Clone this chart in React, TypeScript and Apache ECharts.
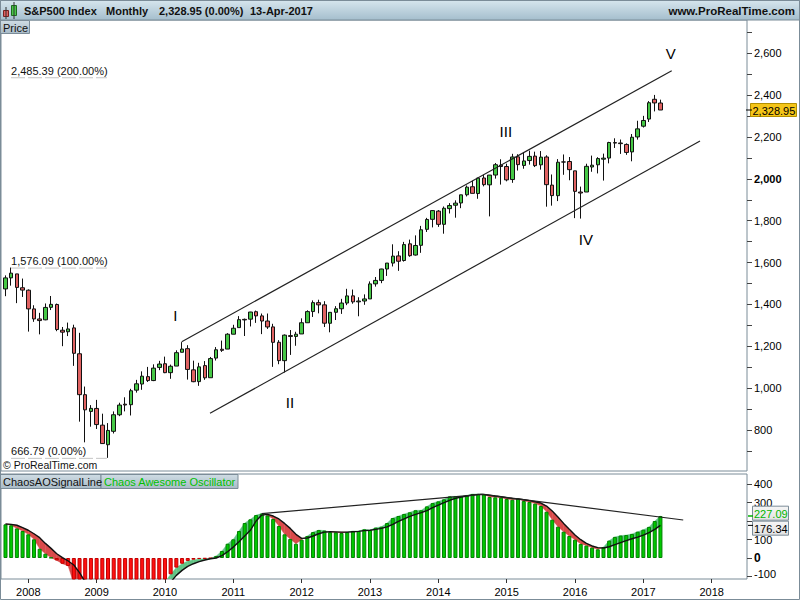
import React, { useEffect, useRef } from "react";
import * as echarts from "echarts";

const FONT = '"Liberation Sans", Arial, Helvetica, sans-serif';

// Monthly S&P500 bars, index 0 = Sep 2007 ... index 115 = Apr 2017
const opens = [
  1473.99, 1526.75, 1545.79, 1479.63,
  1467.97, 1378.6, 1330.45, 1326.41, 1385.97, 1399.62, 1276.69, 1269.42, 1287.83, 1164.17, 968.67, 888.61,
  902.99, 823.09, 729.57, 793.59, 872.74, 923.26, 920.82, 990.22, 1019.52, 1054.91, 1036.18, 1098.89,
  1116.56, 1073.89, 1105.36, 1171.23, 1188.58, 1087.3, 1031.1, 1107.53, 1049.72, 1143.49, 1185.71, 1186.6,
  1257.62, 1289.14, 1328.64, 1329.48, 1365.21, 1345.2, 1320.64, 1292.59, 1219.12, 1131.21, 1251.0, 1246.91,
  1258.86, 1312.45, 1365.9, 1408.47, 1397.86, 1309.87, 1362.33, 1379.32, 1406.54, 1440.9, 1412.2, 1416.18,
  1426.19, 1498.11, 1514.68, 1569.18, 1597.55, 1631.71, 1609.78, 1689.42, 1635.95, 1682.41, 1758.7, 1806.55,
  1845.86, 1782.68, 1857.68, 1873.96, 1884.66, 1923.87, 1962.29, 1929.8, 2004.07, 1971.44, 2018.21, 2065.78,
  2058.9, 1996.67, 2105.23, 2064.11, 2087.38, 2108.64, 2067.0, 2104.49, 1970.09, 1919.65, 2080.76, 2082.93,
  2038.2, 1936.94, 1937.09, 2056.62, 2067.17, 2093.94, 2099.34, 2173.15, 2171.33, 2164.33, 2128.68, 2200.17,
  2251.57, 2285.59, 2380.13, 2362.34,
];
const closes = [
  1526.75, 1549.38, 1481.14, 1468.36,
  1378.55, 1330.63, 1322.7, 1385.59, 1400.38, 1280.0, 1267.38, 1282.83, 1166.36, 968.75, 896.24, 903.25,
  825.88, 735.09, 797.87, 872.81, 919.14, 919.32, 987.48, 1020.62, 1057.08, 1036.19, 1095.63, 1115.1,
  1073.87, 1104.49, 1169.43, 1186.69, 1089.41, 1030.71, 1101.6, 1049.33, 1141.2, 1183.26, 1180.55, 1257.64,
  1286.12, 1327.22, 1325.83, 1363.61, 1345.2, 1320.64, 1292.28, 1218.89, 1131.42, 1253.3, 1246.96, 1257.6,
  1312.41, 1365.68, 1408.47, 1397.91, 1310.33, 1362.16, 1379.32, 1406.58, 1440.67, 1412.16, 1416.18, 1426.19,
  1498.11, 1514.68, 1569.19, 1597.57, 1630.74, 1606.28, 1685.73, 1632.97, 1681.55, 1756.54, 1805.81, 1848.36,
  1782.59, 1859.45, 1872.34, 1883.95, 1923.57, 1960.23, 1930.67, 2003.37, 1972.29, 2018.05, 2067.56, 2058.9,
  1994.99, 2104.5, 2067.89, 2085.51, 2107.39, 2063.11, 2103.84, 1972.18, 1920.03, 2079.36, 2080.41, 2043.94,
  1940.24, 1932.23, 2059.74, 2065.3, 2096.95, 2098.86, 2173.6, 2170.95, 2168.27, 2126.15, 2198.81, 2238.83,
  2278.87, 2363.64, 2362.72, 2328.95,
];
const lows = [
  1439.29, 1489.56, 1406.1, 1435.65,
  1270.05, 1316.75, 1256.98, 1324.35, 1373.07, 1272.0, 1200.44, 1248.64, 1106.42, 839.8, 741.02, 815.69,
  804.85, 734.52, 666.79, 783.32, 866.1, 888.86, 869.32, 978.51, 991.97, 1029.38, 1033.38, 1085.89,
  1071.59, 1044.5, 1105.36, 1170.69, 1040.78, 1028.33, 1010.91, 1039.7, 1049.72, 1131.87, 1173.0, 1186.6,
  1257.62, 1289.14, 1249.05, 1294.7, 1311.8, 1258.07, 1282.86, 1101.54, 1114.22, 1074.77, 1158.66, 1202.37,
  1258.86, 1312.45, 1340.03, 1357.38, 1291.98, 1266.74, 1325.41, 1354.65, 1396.56, 1403.28, 1343.35, 1398.11,
  1426.19, 1485.01, 1501.48, 1536.03, 1581.28, 1560.33, 1604.57, 1627.47, 1633.41, 1646.47, 1746.2, 1767.99,
  1770.45, 1737.92, 1834.44, 1814.36, 1859.79, 1915.98, 1930.67, 1904.78, 1964.04, 1820.66, 2001.01, 1972.56,
  1988.12, 1980.9, 2039.69, 2048.38, 2067.93, 2056.32, 2044.02, 1867.01, 1871.91, 1893.7, 2019.39, 1993.26,
  1812.29, 1810.1, 1937.09, 2033.8, 2025.91, 1991.68, 2074.02, 2147.58, 2119.12, 2114.72, 2083.79, 2187.44,
  2245.13, 2271.65, 2322.25, 2328.95,
];
const highs = [
  1538.74, 1576.09, 1545.79, 1523.57,
  1471.77, 1396.02, 1359.68, 1404.57, 1440.24, 1404.05, 1292.17, 1313.15, 1303.04, 1264.27, 1007.51, 918.85,
  943.85, 877.86, 832.98, 888.7, 930.17, 956.23, 996.68, 1039.47, 1080.15, 1101.36, 1113.69, 1130.38,
  1150.45, 1112.42, 1180.69, 1219.8, 1205.13, 1131.23, 1120.95, 1129.24, 1148.9, 1196.14, 1227.08, 1262.6,
  1302.67, 1344.07, 1332.28, 1364.56, 1370.58, 1356.48, 1356.48, 1307.38, 1229.29, 1256.55, 1277.55, 1269.37,
  1333.47, 1371.94, 1419.15, 1422.38, 1415.32, 1363.46, 1391.74, 1426.68, 1474.51, 1470.96, 1434.27, 1448.0,
  1509.94, 1530.94, 1570.28, 1597.57, 1687.18, 1654.19, 1698.78, 1709.67, 1729.86, 1775.22, 1813.55, 1849.44,
  1850.84, 1867.92, 1883.97, 1897.28, 1924.03, 1968.17, 1991.39, 2005.04, 2019.26, 2018.19, 2075.76, 2093.55,
  2072.36, 2119.59, 2117.52, 2125.92, 2134.72, 2129.87, 2132.82, 2112.66, 2020.86, 2094.32, 2116.48, 2104.27,
  2038.2, 1962.96, 2072.21, 2111.05, 2103.48, 2120.55, 2177.09, 2193.81, 2187.87, 2169.6, 2214.1, 2277.53,
  2300.99, 2371.54, 2400.98, 2378.36,
];

// Chaos Awesome Oscillator (bars) and its signal line
const aoValues = [
  182, 177, 160, 146,
  128, 101, 50, 23, 2, -13, -31, -43, -140, -220, -300, -340,
  -360, -380, -390, -380, -360, -330, -300, -270, -240, -210, -185, -160,
  -130, -88, -52, -31, -16, -9, -5, -4, -2, 11, 38, 77,
  101, 146, 189, 209, 232, 240, 230, 211, 173, 128, 103, 77,
  99, 119, 140, 151, 148, 140, 139, 135, 140, 146, 146, 155,
  151, 164, 169, 189, 216, 227, 238, 247, 258, 258, 279, 297,
  306, 317, 333, 333, 333, 339, 346, 346, 344, 330, 328, 326,
  319, 315, 321, 308, 303, 294, 281, 250, 207, 169, 142, 119,
  99, 76, 67, 56, 47, 59, 94, 114, 121, 124, 130, 142,
  153, 168, 200, 227.09,
];
const signalValues = [
  184, 182, 177, 164,
  150, 131, 110, 79, 52, 23, 2, -16, -38, -79, -130, -180,
  -230, -270, -300, -320, -330, -330, -320, -300, -280, -250, -220, -190,
  -160, -130, -94, -67, -45, -31, -20, -11, -4, 0, 13, 34,
  59, 88, 119, 150, 200, 232, 236, 227, 211, 187, 160, 128,
  106, 108, 119, 131, 140, 142, 141, 140, 140, 142, 144, 148,
  150, 155, 160, 168, 182, 198, 212, 225, 236, 245, 256, 272,
  286, 299, 312, 322, 330, 335, 340, 344, 344, 340, 335, 331,
  326, 322, 319, 315, 310, 304, 297, 281, 254, 222, 187, 155,
  124, 99, 79, 65, 56, 54, 61, 72, 83, 94, 104, 113,
  124, 137, 155, 176.34,
];

const yearLabels = [2008, 2009, 2010, 2011, 2012, 2013, 2014, 2015, 2016, 2017, 2018];
const yearIdx = yearLabels.map((y) => (y - 2008) * 12 + 4);
const priceLabels = [800, 1000, 1200, 1400, 1600, 1800, 2000, 2200, 2400, 2600];
const priceTicks = [700, 800, 900, 1000, 1100, 1200, 1300, 1400, 1500, 1600, 1700, 1800, 1900, 2000, 2100, 2200, 2300, 2400, 2500, 2600, 2700];
const aoTicks = [-100, 0, 100, 200, 300, 400];
const aoLabels = [-100, 0, 100, 300, 400];

// Drawn objects in data coordinates [month index, value]
const upperChannel = [[30.94, 1221.9], [116.98, 2516.8]];
const lowerChannel = [[35.91, 879.8], [121.95, 2180.9]];
const aoTrend = [[44.99, 239.5], [83.67, 344.3], [119.0, 205.4]];
const fibLevels = [2485.39, 1576.09, 666.79];
const fibPercents = ["200.00", "100.00", "0.00"];
const fibSpan = [0.97, 17.8];
const waveNames = ["I", "II", "III", "IV", "V"];
const waveX = [29.82, 49.96, 87.85, 101.9, 116.82];
const waveY = [1344.7, 931.4, 2223.9, 1708, 2598];
const lastPrice = 2328.95;

const X_MIN = -0.79;
const X_MAX = 130.2;
const P_MIN = 604;
const P_MAX = 2759;
const A_MIN = -113.5;
const A_MAX = 454.05;

const BORDER = "#7b8c98";
const UP = "#46c846";
const DOWN = "#e06262";
const RED_FILL = "#d94a4a";
const GREEN_FILL = "#62c486";

const fmt = (v: number) => v.toLocaleString("en-US");
const fmt2 = (v: number) =>
  v.toLocaleString("en-US", { minimumFractionDigits: 2, maximumFractionDigits: 2 });

function buildOption(): any {
  const candleData = opens.map((o, i) => [i, o, closes[i], lows[i], highs[i]]);
  const aoBarData = aoValues.map((v, i) => ({
    value: [i, v],
    itemStyle:
      v >= 0
        ? { color: "#00c800", borderColor: "#008000", borderWidth: 1 }
        : { color: "#ff1010", borderColor: "#c00000", borderWidth: 1 },
  }));
  const signalData = signalValues.map((v, i) => [i, v]);
  const fillData = aoValues.slice(0, -1).map((v, i) => [i, v, signalValues[i], aoValues[i + 1], signalValues[i + 1]]);

  const labelFont = { fontSize: 11, color: "#000", fontFamily: FONT };

  return {
    animation: false,
    backgroundColor: "#ffffff",
    textStyle: { fontFamily: FONT },
    grid: [
      { left: 1, top: 20, width: 746, height: 451, show: true, borderColor: BORDER, borderWidth: 1, backgroundColor: "#fff" },
      { left: 1, top: 474, width: 746, height: 105, show: true, borderColor: BORDER, borderWidth: 1, backgroundColor: "#fff" },
    ],
    xAxis: [
      { type: "value", gridIndex: 0, min: X_MIN, max: X_MAX, show: false, axisLine: { onZero: false }, splitLine: { show: false } },
      {
        type: "value",
        gridIndex: 1,
        position: "bottom",
        min: X_MIN,
        max: X_MAX,
        axisLine: { show: false, onZero: false },
        splitLine: { show: false },
        axisTick: { show: true, customValues: yearIdx, length: 4, inside: false, lineStyle: { color: "#333" } },
        axisLabel: {
          customValues: yearIdx,
          margin: 7,
          ...labelFont,
          formatter: (v: number) => {
            const k = yearIdx.indexOf(Math.round(v));
            return k >= 0 ? String(yearLabels[k]) : "";
          },
        },
      },
    ],
    yAxis: [
      {
        type: "value",
        gridIndex: 0,
        position: "right",
        min: P_MIN,
        max: P_MAX,
        splitLine: { show: false },
        axisLine: { show: false, onZero: false },
        axisTick: { show: true, customValues: priceTicks, length: 5, inside: false, lineStyle: { color: "#444" } },
        axisLabel: {
          customValues: priceLabels,
          margin: 7,
          ...labelFont,
          formatter: (v: number) => (v === 2000 ? "{b|" + fmt(v) + "}" : fmt(v)),
          rich: { b: { fontWeight: "bold", fontSize: 11, color: "#000", fontFamily: FONT } },
        },
      },
      {
        type: "value",
        gridIndex: 1,
        position: "right",
        min: A_MIN,
        max: A_MAX,
        splitLine: { show: false },
        axisLine: { show: false, onZero: false },
        axisTick: { show: true, customValues: aoTicks, length: 5, inside: false, lineStyle: { color: "#444" } },
        axisLabel: {
          customValues: aoLabels,
          margin: 7,
          ...labelFont,
          formatter: (v: number) => (v === 0 ? "{b|0}" : v === -100 ? "{m|-100}" : String(v)),
          rich: {
            b: { fontWeight: "bold", fontSize: 12, color: "#000", fontFamily: FONT },
            m: { fontSize: 11, color: "#000", fontFamily: FONT, padding: [0, 0, 6, 0] },
          },
        },
      },
    ],
    series: [
      {
        type: "candlestick",
        xAxisIndex: 0,
        yAxisIndex: 0,
        data: candleData,
        barWidth: 4,
        z: 3,
        silent: true,
        itemStyle: {
          color: UP,
          color0: DOWN,
          borderColor: "#111",
          borderColor0: "#111",
          borderWidth: 1,
        },
      },
      {
        type: "line",
        xAxisIndex: 0,
        yAxisIndex: 0,
        data: upperChannel,
        symbol: "none",
        silent: true,
        z: 4,
        lineStyle: { color: "#222", width: 1.2 },
      },
      {
        type: "line",
        xAxisIndex: 0,
        yAxisIndex: 0,
        data: lowerChannel,
        symbol: "none",
        silent: true,
        z: 4,
        lineStyle: { color: "#222", width: 1.2 },
      },
      {
        type: "custom",
        xAxisIndex: 1,
        yAxisIndex: 1,
        data: fillData,
        clip: true,
        silent: true,
        z: 1,
        encode: { x: 0, y: [1, 2, 3, 4] },
        renderItem: (params: any, api: any) => {
          const i = api.value(0);
          const a0 = api.value(1);
          const s0 = api.value(2);
          const a1 = api.value(3);
          const s1 = api.value(4);
          const d0 = a0 - s0;
          const d1 = a1 - s1;
          const mk = (pts: number[][], up: boolean) => {
            const c = up ? GREEN_FILL : RED_FILL;
            return {
              type: "polygon",
              shape: { points: pts.map((p) => api.coord(p)) },
              style: { fill: c, stroke: c, lineWidth: 0.4 },
            };
          };
          const children: any[] = [];
          if (d0 * d1 >= 0) {
            children.push(mk([[i, a0], [i + 1, a1], [i + 1, s1], [i, s0]], d0 + d1 > 0));
          } else {
            const t = d0 / (d0 - d1);
            const xm = i + t;
            const ym = a0 + (a1 - a0) * t;
            children.push(mk([[i, a0], [xm, ym], [i, s0]], d0 > 0));
            children.push(mk([[xm, ym], [i + 1, a1], [i + 1, s1]], d1 > 0));
          }
          return { type: "group", children };
        },
      },
      {
        type: "bar",
        xAxisIndex: 1,
        yAxisIndex: 1,
        data: aoBarData,
        barWidth: 4,
        silent: true,
        z: 2,
      },
      {
        type: "line",
        xAxisIndex: 1,
        yAxisIndex: 1,
        data: signalData,
        symbol: "none",
        silent: true,
        z: 3,
        lineStyle: { color: "#111", width: 1.4 },
      },
      {
        type: "line",
        xAxisIndex: 1,
        yAxisIndex: 1,
        data: aoTrend,
        symbol: "none",
        silent: true,
        z: 4,
        lineStyle: { color: "#222", width: 1.2 },
      },
    ],
  };
}

function gradient(c0: string, c1: string) {
  return new echarts.graphic.LinearGradient(0, 0, 0, 1, [
    { offset: 0, color: c0 },
    { offset: 1, color: c1 },
  ]);
}

function txt(text: string, x: number, y: number, extra: any = {}) {
  return {
    type: "text",
    x,
    y,
    z: 110,
    silent: true,
    style: {
      text,
      fill: "#000",
      fontSize: 11,
      fontFamily: FONT,
      verticalAlign: "middle",
      align: "left",
      ...extra,
    },
  };
}

function box(x: number, y: number, w: number, h: number, fill: any, stroke: string) {
  return {
    type: "rect",
    z: 105,
    silent: true,
    shape: { x, y, width: w, height: h },
    style: { fill, stroke, lineWidth: 1 },
  };
}

export default function App() {
  const ref = useRef<HTMLDivElement>(null);

  useEffect(() => {
    if (!ref.current) return;
    const chart = echarts.init(ref.current, null, { renderer: "svg" });
    chart.setOption(buildOption());

    const px = (g: number, x: number, y: number) =>
      chart.convertToPixel({ gridIndex: g }, [x, y]) as number[];

    const els: any[] = [];

    // Header bar
    els.push({
      type: "rect",
      z: 100,
      silent: true,
      shape: { x: 0, y: 0, width: 800, height: 20 },
      style: { fill: gradient("#d7e6ee", "#a5becd"), stroke: BORDER, lineWidth: 1 },
    });
    // candle icon
    els.push({ type: "line", z: 106, shape: { x1: 6, y1: 7, x2: 6, y2: 19 }, style: { stroke: "#333", lineWidth: 1 } });
    els.push(box(3.5, 10.5, 5, 6, "#e06060", "#7a2020"));
    els.push({ type: "line", z: 106, shape: { x1: 14, y1: 2, x2: 14, y2: 19 }, style: { stroke: "#333", lineWidth: 1 } });
    els.push(box(11.5, 5.5, 5, 10, "#46c846", "#1f6b1f"));
    const hdr = { fontWeight: "bold", fontSize: 11, fill: "#111" };
    els.push(txt("S&P500 Index", 24, 10.5, hdr));
    els.push(txt("Monthly", 106, 10.5, hdr));
    els.push(txt(fmt2(lastPrice) + " (0.00%)", 159, 10.5, hdr));
    els.push(txt("13-Apr-2017", 250, 10.5, hdr));
    els.push(txt("www.ProRealTime.com", 795, 10.5, { ...hdr, fontSize: 11.5, align: "right" }));

    // Panel caption boxes
    els.push(box(0.5, 20.5, 29, 13, gradient("#cfdce4", "#a9bbc7"), BORDER));
    els.push(txt("Price", 3, 27.5, { fill: "#111" }));
    els.push(box(0.5, 474.5, 100.5, 14, gradient("#cfdce4", "#a9bbc7"), BORDER));
    els.push(txt("ChaosAOSignalLine", 3, 482, { fill: "#111" }));
    els.push(box(101, 474.5, 137, 14, gradient("#cfdce4", "#a9bbc7"), BORDER));
    els.push(txt("Chaos Awesome Oscillator", 104, 482, { fill: "#00c000" }));

    els.push(txt("\u00a9 ProRealTime.com", 3, 465, { fontSize: 10.5, fill: "#111" }));

    // Fibonacci levels
    fibLevels.forEach((lv, k) => {
      const a = px(0, fibSpan[0], lv);
      const b = px(0, fibSpan[1], lv);
      els.push({
        type: "line",
        z: 104,
        silent: true,
        shape: { x1: a[0], y1: a[1] + 0.5, x2: b[0], y2: b[1] + 0.5 },
        style: { stroke: "#c4c4c4", lineWidth: 1, lineDash: [14, 3] },
      });
      els.push(txt(fmt2(lv) + " (" + fibPercents[k] + "%)", a[0], a[1] - 1, { verticalAlign: "bottom", fill: "#111" }));
    });

    // Elliott wave labels
    waveNames.forEach((n, k) => {
      const p = px(0, waveX[k], waveY[k]);
      els.push(txt(n, p[0], p[1], { fontSize: 15, align: "center", fill: "#000" }));
    });

    // Last price box
    const lp = px(0, X_MAX, lastPrice);
    els.push({ type: "line", z: 106, shape: { x1: 746, y1: lp[1], x2: 752, y2: lp[1] }, style: { stroke: "#000", lineWidth: 1 } });
    els.push(box(750.5, lp[1] - 6.5, 46, 13, "#f5c518", "#b38f00"));
    els.push(txt(fmt2(lastPrice), 752.5, lp[1] + 0.5, { fill: "#000" }));

    // Oscillator value boxes
    const aoLast = aoValues[aoValues.length - 1];
    const sgLast = signalValues[signalValues.length - 1];
    const ya = px(1, X_MAX, aoLast)[1];
    const ys = px(1, X_MAX, sgLast)[1];
    let ca = ya;
    let cs = ys;
    if (cs - ca < 15) {
      const mid = (ca + cs) / 2;
      ca = mid - 7.5;
      cs = mid + 7.5;
    }
    els.push({ type: "line", z: 106, shape: { x1: 748, y1: ya, x2: 753, y2: ya }, style: { stroke: "#00b000", lineWidth: 1.5 } });
    els.push({ type: "line", z: 106, shape: { x1: 748, y1: ys, x2: 753, y2: ys }, style: { stroke: "#000", lineWidth: 1 } });
    els.push(box(752.5, ca - 7, 36, 14, gradient("#f6f6f6", "#e2e2e2"), BORDER));
    els.push(txt(fmt2(aoLast), 754, ca + 0.5, { fill: "#00b400" }));
    els.push(box(752.5, cs - 7, 36, 14, gradient("#f6f6f6", "#e2e2e2"), BORDER));
    els.push(txt(fmt2(sgLast), 754, cs + 0.5, { fill: "#000" }));

    // Outer frame
    els.push({
      type: "rect",
      z: 120,
      silent: true,
      shape: { x: 0.5, y: 0.5, width: 799, height: 599 },
      style: { fill: "none", stroke: BORDER, lineWidth: 1 },
    });

    chart.setOption({ graphic: { elements: els } });

    return () => {
      chart.dispose();
    };
  }, []);

  return (
    <div
      ref={ref}
      style={{ position: "fixed", left: 0, top: 0, width: 800, height: 600, background: "#fff" }}
    />
  );
}
